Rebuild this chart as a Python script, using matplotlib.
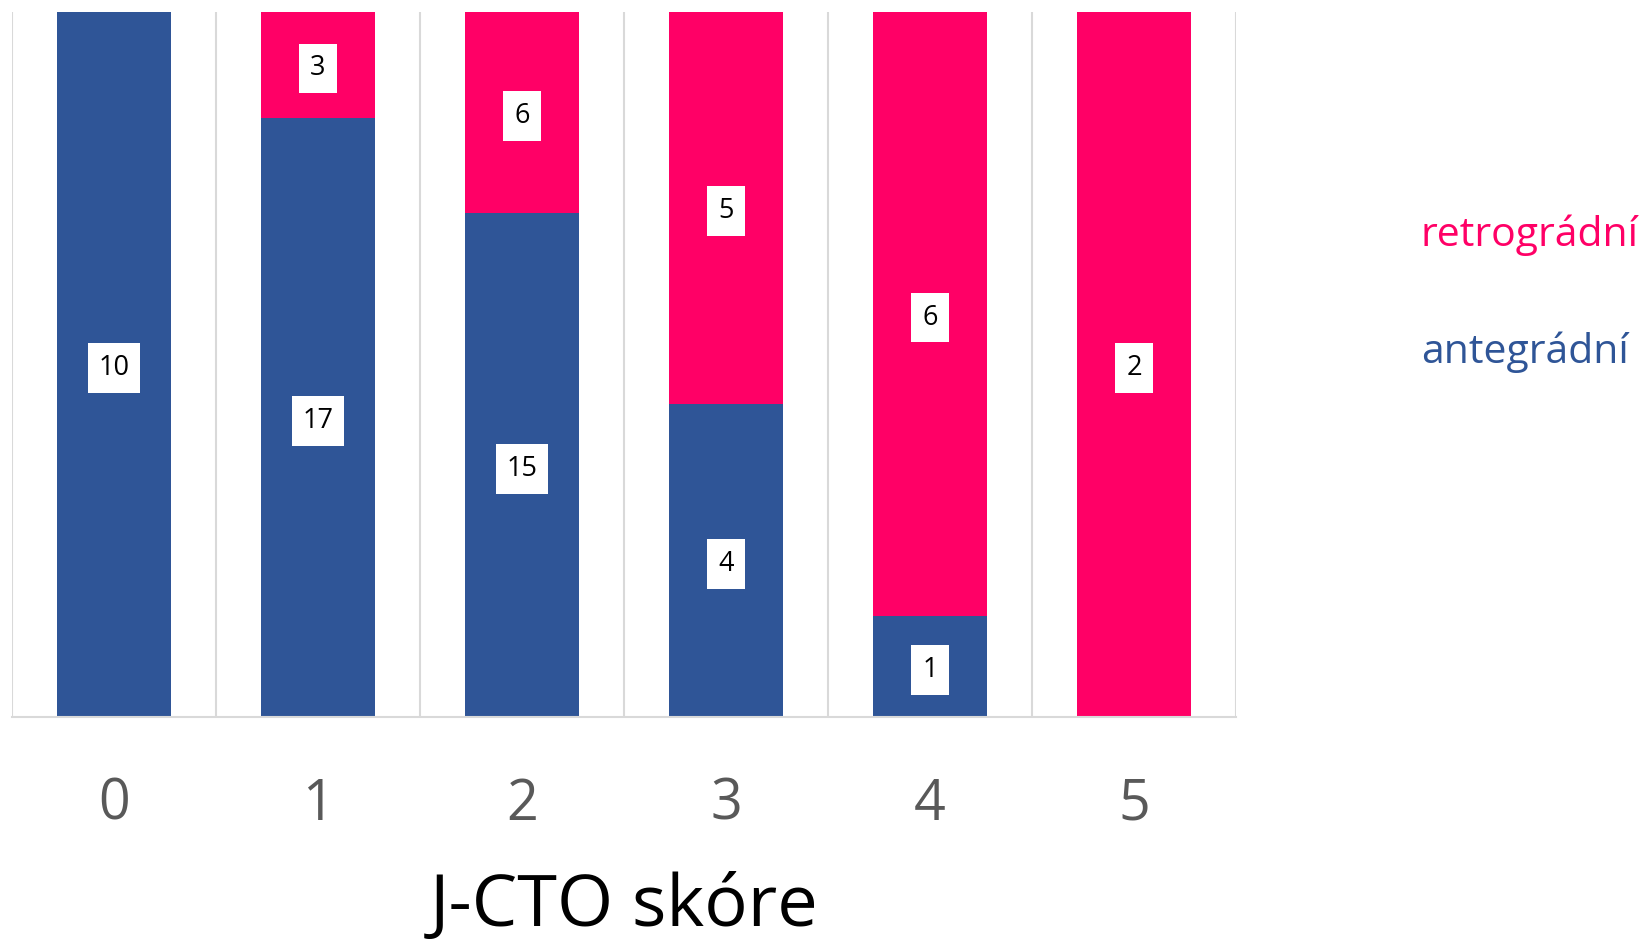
import matplotlib
matplotlib.use("Agg")
import matplotlib.pyplot as plt
import numpy as np

categories = ["0", "1", "2", "3", "4", "5"]
antegradni = [10, 17, 15, 4, 1, 0]
retrogradni = [0, 3, 6, 5, 6, 2]

BLUE = "#2F5597"
PINK = "#FF0066"
FONT = ["Open Sans", "DejaVu Sans"]
plt.rcParams['font.family'] = FONT

W, H = 1646, 943
fig = plt.figure(figsize=(W/100, H/100), dpi=100)
ax = fig.add_axes([12/W, (H-717)/H, (1236-12)/W, (717-12)/H])

a = np.array(antegradni, float)
r = np.array(retrogradni, float)
tot = a + r
ap = a / tot * 100
rp = r / tot * 100
x = np.arange(len(categories))
bw = 0.56
ax.bar(x, ap, bw, color=BLUE, zorder=2)
ax.bar(x, rp, bw, bottom=ap, color=PINK, zorder=2)

for i in range(len(x)):
    if a[i] > 0:
        ax.text(x[i], ap[i]/2, str(antegradni[i]), ha="center", va="center_baseline", fontsize=19.5,
                color="black", zorder=3,
                bbox=dict(boxstyle="square,pad=0.4", fc="white", ec="none"))
    if r[i] > 0:
        ax.text(x[i], ap[i] + rp[i]/2, str(retrogradni[i]), ha="center", va="center_baseline", fontsize=19.5,
                color="black", zorder=3,
                bbox=dict(boxstyle="square,pad=0.4", fc="white", ec="none"))

ax.set_xlim(-0.5, len(x)-0.5)
ax.set_ylim(0, 100)
for b in np.arange(-0.5, len(x)+0.5, 1):
    ax.axvline(b, color="#D9D9D9", lw=1.5, zorder=1)
for s in ["top", "left", "right"]:
    ax.spines[s].set_visible(False)
ax.spines["bottom"].set_color("#D9D9D9")
ax.spines["bottom"].set_linewidth(1.5)
ax.set_yticks([])
ax.set_xticks(x)
ax.set_xticklabels(categories, fontsize=40, color="#595959")
ax.tick_params(axis="x", length=0, pad=43)
ax.set_xlabel("J-CTO skóre", fontsize=52, color="black", labelpad=27)

fig.text(1421/W, 1-235/H, "retrográdní", color=PINK, fontsize=29.5, ha="left", va="center")
fig.text(1421/W, 1-352/H, "antegrádní", color=BLUE, fontsize=29.5, ha="left", va="center")

fig.savefig("out.png", dpi=100, facecolor="white")
